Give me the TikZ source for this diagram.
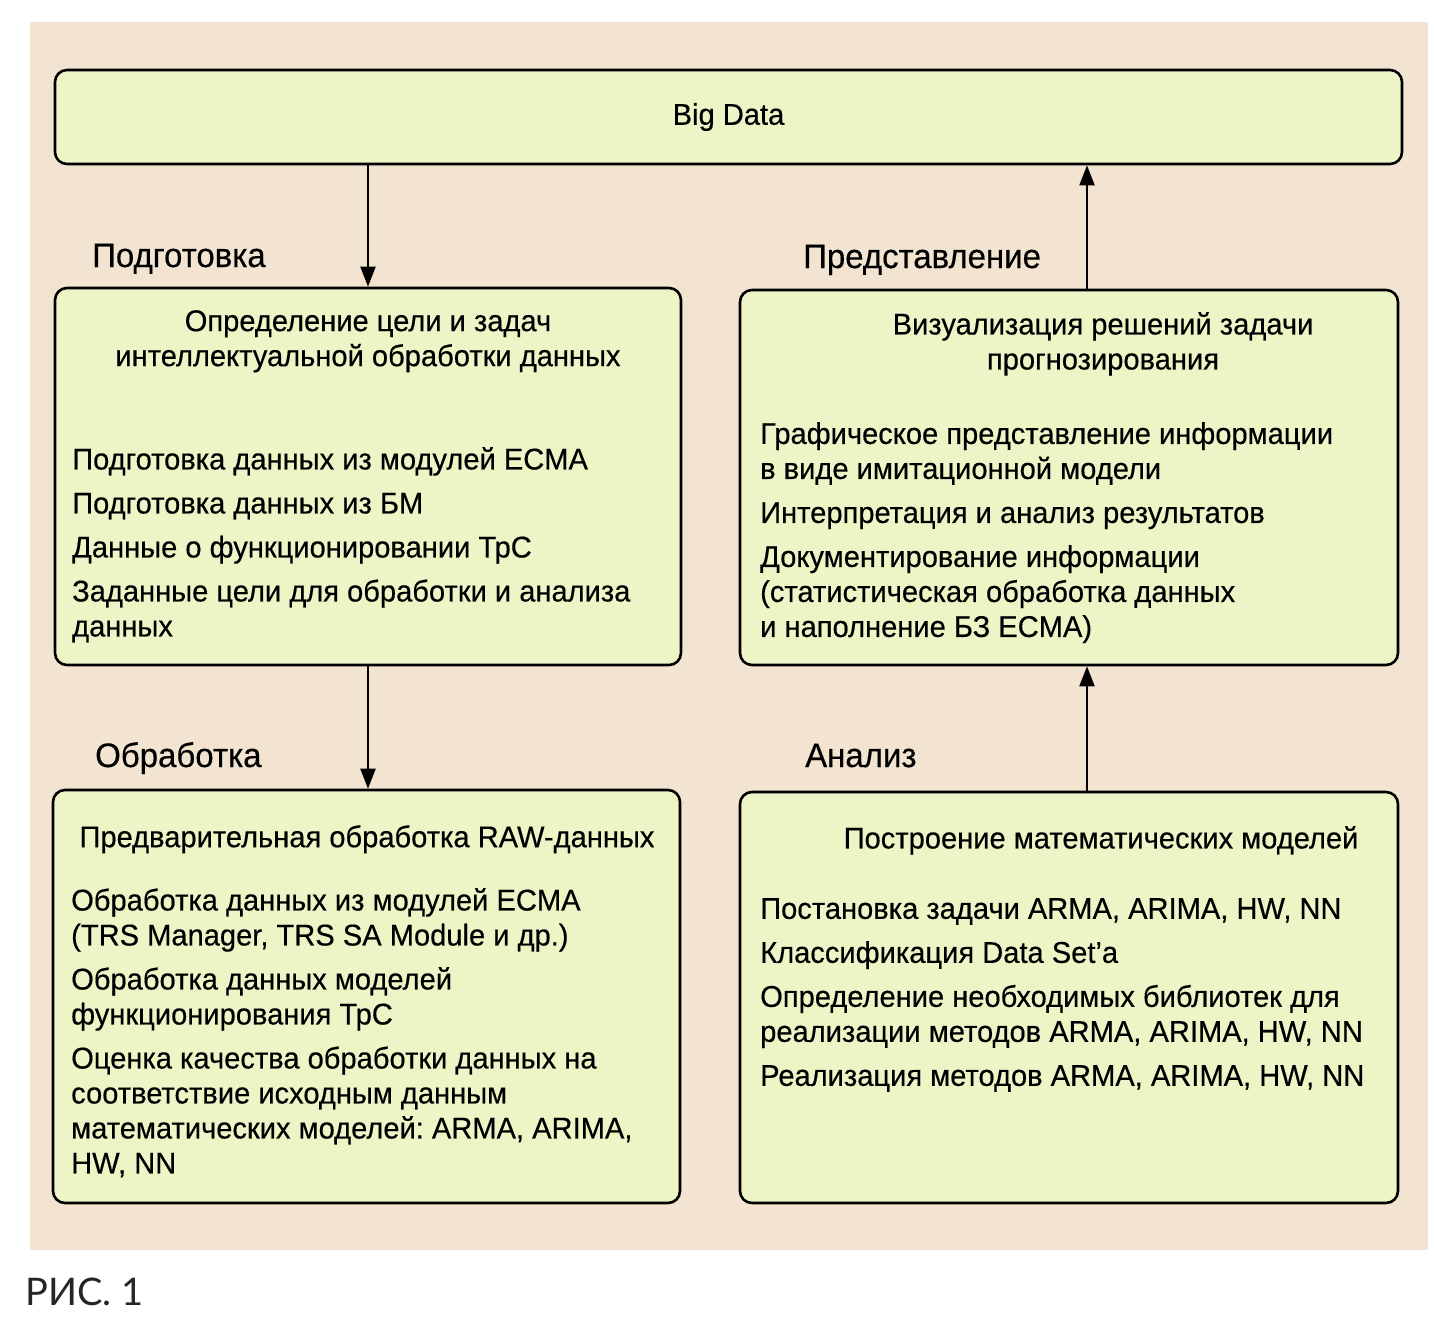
\documentclass[tikz,border=0pt]{standalone}
\usepackage{fontspec}
\setmainfont{Liberation Sans}[FakeStretch=0.97, FakeBold=0.4]
\newfontfamily\figfont{Lato}
\usepackage{xcolor}
\usepackage{tikz}
\usetikzlibrary{arrows.meta,positioning,calc}

\definecolor{panelbg}{RGB}{242,228,208}
\definecolor{boxfill}{RGB}{237,244,197}

\frenchspacing

\begin{document}
\begin{tikzpicture}[
  x=1pt, y=-1pt,
  box/.style={rectangle, rounded corners=12pt, draw=black, line width=2.6pt,
              fill=boxfill, inner sep=0pt},
  head/.style={anchor=north, align=center, inner sep=0pt,
               font=\fontsize{30}{35}\selectfont},
  items/.style={anchor=north west, align=left, inner sep=0pt,
                font=\fontsize{30}{35}\selectfont},
  phase/.style={anchor=base west, inner sep=0pt, font=\fontsize{34}{40}\selectfont},
  arr/.style={-{Triangle[length=20pt, width=15pt]}, line width=2pt}
]
\useasboundingbox (0,0) rectangle (1434,1325);
\fill[white] (0,0) rectangle (1434,1325);
\fill[panelbg] (30,22) rectangle (1428,1250);

%% Boxes
\node[box, minimum width=1347, minimum height=94, font=\fontsize{30}{35}\selectfont]
  (bigdata) at (728.5,117) {Big Data};
\node[box, minimum width=626, minimum height=377] (prep)     at (368,476.5)  {};
\node[box, minimum width=658, minimum height=375] (visual)   at (1069,477.5) {};
\node[box, minimum width=627, minimum height=413] (proc)     at (366.5,996.5) {};
\node[box, minimum width=658, minimum height=411] (analysis) at (1069,997.5) {};

%% Box contents
\node[head] (prephead) at (368,310)
  {Определение цели и задач\\интеллектуальной обработки данных};
\node[items] (prepitems) at (72,447)
  {Подготовка данных из модулей ECMA\\[9pt]
   Подготовка данных из БМ\\[9pt]
   Данные о функционировании ТрС\\[9pt]
   Заданные цели для обработки и анализа\\
   данных};

\node[head] (visualhead) at (1103,312)
  {Визуализация решений задачи\\прогнозирования};
\node[items] (visualitems) at (760,422)
  {Графическое представление информации\\
   в виде имитационной модели\\[9pt]
   Интерпретация и анализ результатов\\[9pt]
   Документирование информации\\
   (статистическая обработка данных\\
   и наполнение БЗ ECMA)};

\node[head] (prochead) at (367,825)
  {Предварительная обработка RAW-данных};
\node[items] (procitems) at (71,888)
  {Обработка данных из модулей ECMA\\
   (TRS Manager, TRS SA Module и др.)\\[9pt]
   Обработка данных моделей\\
   функционирования ТрС\\[9pt]
   Оценка качества обработки данных на\\
   соответствие исходным данным\\
   математических моделей: ARMA, ARIMA,\\
   HW, NN};

\node[head] (analysishead) at (1101,826)
  {Построение математических моделей};
\node[items] (analysisitems) at (760,898)
  {Постановка задачи ARMA, ARIMA, HW, NN\\[9pt]
   Классификация Data Set’a\\[9pt]
   Определение необходимых библиотек для\\
   реализации методов ARMA, ARIMA, HW, NN\\[9pt]
   Реализация методов ARMA, ARIMA, HW, NN};

%% Phase labels
\node[phase] (lprep)     at (92,267)  {Подготовка};
\node[phase] (lvisual)   at (803,268) {Представление};
\node[phase] (lproc)     at (95,767)  {Обработка};
\node[phase] (lanalysis) at (805,767) {Анализ};

%% Arrows
\draw[arr] (bigdata.south -| prep.north) -- (prep.north);
\draw[arr] (prep.south) -- (prep.south |- proc.north);
\draw[arr] ([xshift=18pt]analysis.north) -- ([xshift=18pt]visual.south);
\draw[arr] ([xshift=18pt]visual.north) -- ([xshift=18pt]visual.north |- bigdata.south);

%% Figure caption
\node[anchor=base west, inner sep=0pt, text=black!85, font=\figfont\fontsize{38}{40}\selectfont]
  (caption) at (25,1305) {РИС. 1};

\end{tikzpicture}
\end{document}
